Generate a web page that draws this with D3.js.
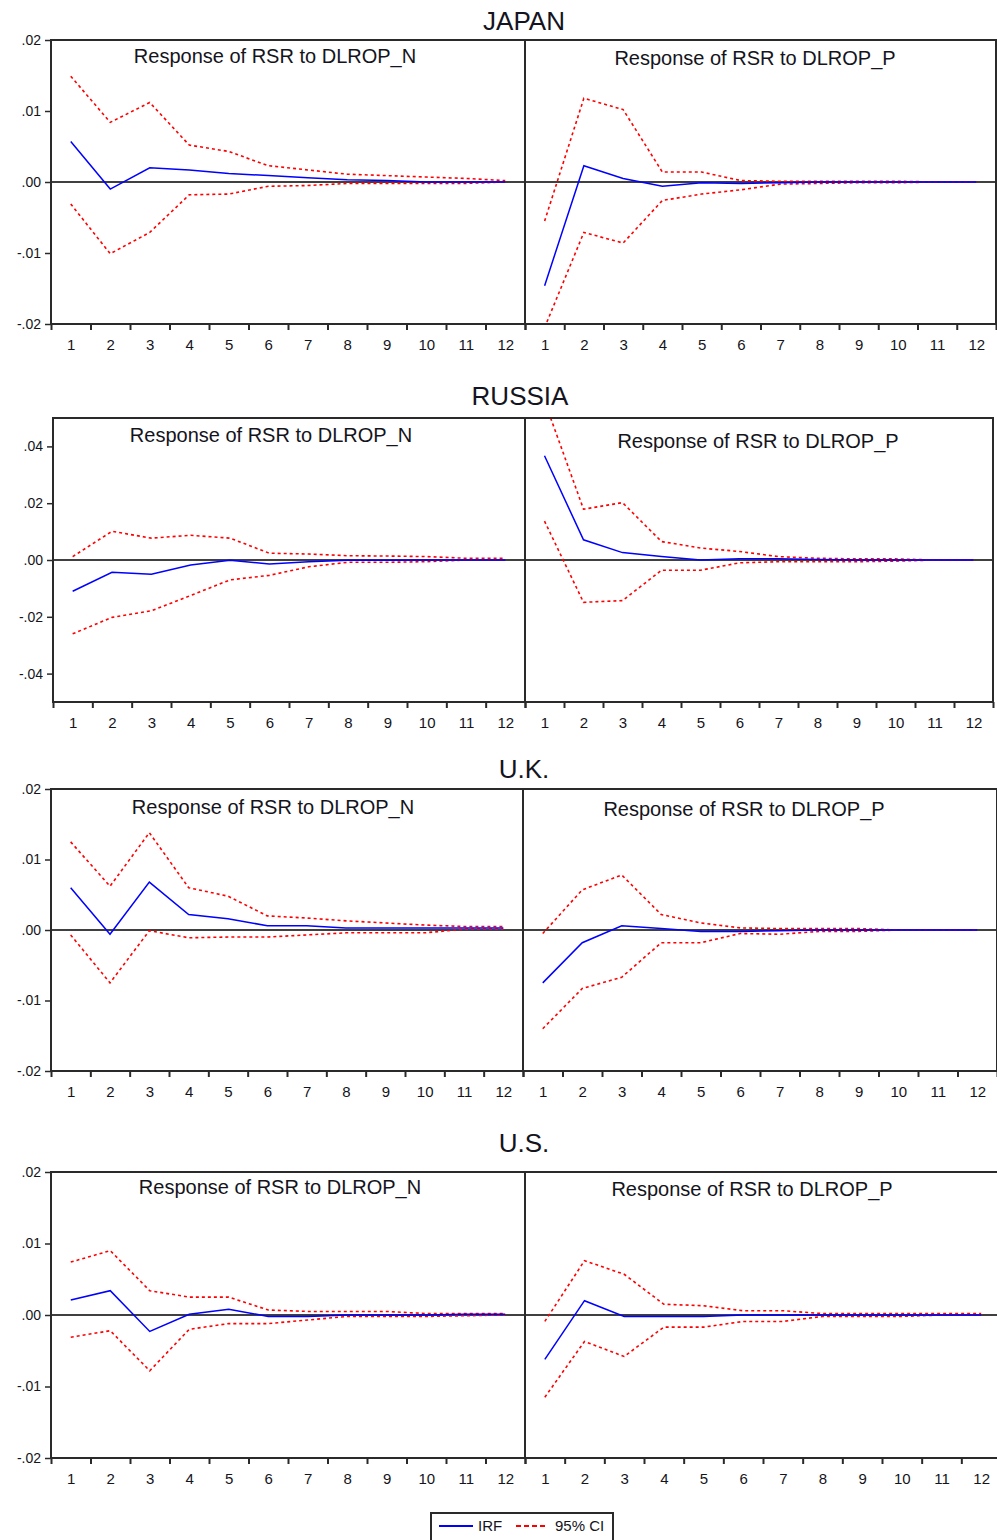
<!DOCTYPE html>
<html>
<head>
<meta charset="utf-8">
<script src="https://cdn.jsdelivr.net/npm/d3@7"></script>
<style>
body { margin: 0; background: #fff; }
text { font-family: "Liberation Sans", Arial, sans-serif; fill: #141420; }
</style>
</head>
<body>
<div id="my_dataviz"></div>
<script>
// periods of the impulse response
const periods = [1, 2, 3, 4, 5, 6, 7, 8, 9, 10, 11, 12];
const countries = ["JAPAN", "RUSSIA", "U.K.", "U.S."];
const panelTitles = ["Response of RSR to DLROP_N", "Response of RSR to DLROP_P"];
const ticksSmall = [-0.02, -0.01, 0, 0.01, 0.02];
const ticksRussia = [-0.04, -0.02, 0, 0.02, 0.04];

// JAPAN
const japanN_irf = [0.0057, -0.0010, 0.0020, 0.0017, 0.0012, 0.0009, 0.0006, 0.0003, 0.0002, 0.0000, 0.0000, 0.0000];
const japanN_up  = [0.0149, 0.0084, 0.0112, 0.0052, 0.0043, 0.0023, 0.0017, 0.0011, 0.0009, 0.0007, 0.0005, 0.0002];
const japanN_lo  = [-0.0031, -0.0101, -0.0071, -0.0018, -0.0017, -0.0006, -0.0005, -0.0002, -0.0002, -0.0002, -0.0002, 0.0000];
const japanP_irf = [-0.0146, 0.0023, 0.0005, -0.0006, -0.0001, -0.0002, -0.0001, 0, 0, 0, 0, 0];
const japanP_up  = [-0.0055, 0.0118, 0.0102, 0.0014, 0.0014, 0.0002, 0.0001, 0.0001, 0.0001, 0.0001, 0, 0];
const japanP_lo  = [-0.0205, -0.0071, -0.0086, -0.0026, -0.0017, -0.0011, -0.0003, -0.0002, -0.0001, -0.0001, 0, 0];

// RUSSIA
const russiaN_irf = [-0.0110, -0.0043, -0.0050, -0.0018, -0.0001, -0.0014, -0.0006, -0.0001, -0.0001, 0, 0, 0];
const russiaN_up  = [0.0012, 0.0101, 0.0077, 0.0087, 0.0077, 0.0024, 0.0021, 0.0015, 0.0014, 0.0012, 0.0006, 0.0006];
const russiaN_lo  = [-0.0260, -0.0202, -0.0179, -0.0125, -0.0070, -0.0054, -0.0024, -0.0008, -0.0008, -0.0006, 0, 0];
const russiaP_irf = [0.0367, 0.0071, 0.0026, 0.0012, 0.0000, 0.0004, 0.0004, 0.0002, 0, 0, 0, 0];
const russiaP_up  = [0.0560, 0.0179, 0.0202, 0.0065, 0.0042, 0.0030, 0.0012, 0.0006, 0.0004, 0.0004, 0, 0];
const russiaP_lo  = [0.0137, -0.0149, -0.0143, -0.0036, -0.0036, -0.0010, -0.0006, -0.0006, -0.0006, -0.0004, 0, 0];

// U.K.
const ukN_irf = [0.0060, -0.0006, 0.0068, 0.0022, 0.0016, 0.0006, 0.0006, 0.0003, 0.0003, 0.0003, 0.0003, 0.0003];
const ukN_up  = [0.0125, 0.0062, 0.0138, 0.0060, 0.0048, 0.0020, 0.0017, 0.0013, 0.0010, 0.0007, 0.0005, 0.0005];
const ukN_lo  = [-0.0007, -0.0075, -0.0001, -0.0011, -0.0010, -0.0010, -0.0007, -0.0004, -0.0004, -0.0004, 0.0001, 0.0001];
const ukP_irf = [-0.0075, -0.0018, 0.0006, 0.0002, -0.0002, -0.0002, -0.0001, 0, 0, 0, 0, 0];
const ukP_up  = [-0.0005, 0.0057, 0.0078, 0.0022, 0.0010, 0.0003, 0.0002, 0.0002, 0.0002, 0, 0, 0];
const ukP_lo  = [-0.0140, -0.0083, -0.0067, -0.0018, -0.0018, -0.0005, -0.0006, -0.0002, -0.0002, 0, 0, 0];

// U.S.
const usN_irf = [0.0021, 0.0034, -0.0023, 0.0001, 0.0008, -0.0002, -0.0002, 0, 0, 0, 0.0001, 0.0001];
const usN_up  = [0.0074, 0.0090, 0.0034, 0.0025, 0.0025, 0.0007, 0.0005, 0.0005, 0.0005, 0.0002, 0.0002, 0.0002];
const usN_lo  = [-0.0031, -0.0022, -0.0078, -0.0020, -0.0012, -0.0012, -0.0007, -0.0002, -0.0002, -0.0002, -0.0001, 0];
const usP_irf = [-0.0062, 0.0020, -0.0002, -0.0002, -0.0002, 0, 0, 0, 0, 0, 0, 0];
const usP_up  = [-0.0009, 0.0076, 0.0057, 0.0015, 0.0013, 0.0006, 0.0006, 0.0002, 0.0002, 0.0002, 0.0002, 0.0002];
const usP_lo  = [-0.0115, -0.0037, -0.0058, -0.0017, -0.0017, -0.0009, -0.0009, -0.0002, -0.0002, -0.0002, 0, 0];

// layout of each country block (pixel positions)
const blocks = [
    { name: countries[0], domain: [-0.02, 0.02], ticks: ticksSmall, x0: 51, xm: 525, x1: 996, top: 40, bottom: 324,
      titleX: 524, titleY: 30, subX: [275, 755], subY: [63, 65],
      series: [[japanN_irf, japanN_up, japanN_lo], [japanP_irf, japanP_up, japanP_lo]] },
    { name: countries[1], domain: [-0.05, 0.05], ticks: ticksRussia, x0: 53, xm: 525, x1: 993, top: 418, bottom: 702,
      titleX: 520, titleY: 405, subX: [271, 758], subY: [442, 448],
      series: [[russiaN_irf, russiaN_up, russiaN_lo], [russiaP_irf, russiaP_up, russiaP_lo]] },
    { name: countries[2], domain: [-0.02, 0.02], ticks: ticksSmall, x0: 51, xm: 523, x1: 997, top: 789, bottom: 1071,
      titleX: 524, titleY: 778, subX: [273, 744], subY: [814, 816],
      series: [[ukN_irf, ukN_up, ukN_lo], [ukP_irf, ukP_up, ukP_lo]] },
    { name: countries[3], domain: [-0.02, 0.02], ticks: ticksSmall, x0: 51, xm: 525, x1: 1001, top: 1172, bottom: 1458,
      titleX: 524, titleY: 1152, subX: [280, 752], subY: [1194, 1196],
      series: [[usN_irf, usN_up, usN_lo], [usP_irf, usP_up, usP_lo]] }
];

const svg = d3.select("#my_dataviz")
    .append("svg")
    .attr("width", 997)
    .attr("height", 1540);

// EViews style: ".02", "-.01", ".00"
const fmt = v => d3.format(".2f")(v).replace("\u2212", "-").replace("0.", ".");
const bounds = periods.map(p => p - 0.5).concat([12.5]);

blocks.forEach(function (b, bi) {
    const y = d3.scaleLinear().domain(b.domain).range([b.bottom, b.top]);

    // country title
    svg.append("text")
        .attr("x", b.titleX)
        .attr("y", b.titleY)
        .attr("text-anchor", "middle")
        .style("font-size", "26px")
        .text(b.name);

    [0, 1].forEach(function (pi) {
        const xa = pi == 0 ? b.x0 : b.xm;
        const xb = pi == 0 ? b.xm : b.x1;
        const x = d3.scaleLinear().domain([0.5, 12.5]).range([xa, xb]);
        const g = svg.append("g");

        const clipId = "clip" + bi + "_" + pi;
        g.append("clipPath").attr("id", clipId)
            .append("rect")
            .attr("x", xa).attr("y", b.top)
            .attr("width", xb - xa).attr("height", b.bottom - b.top);

        // zero line
        g.append("line")
            .attr("x1", xa).attr("x2", xb)
            .attr("y1", y(0)).attr("y2", y(0))
            .attr("stroke", "#000")
            .attr("stroke-width", 1.6);

        const line = d3.line().x((d, i) => x(periods[i])).y(d => y(d));
        const [irf, up, lo] = b.series[pi];

        const lines = g.append("g").attr("clip-path", `url(#${clipId})`);
        [up, lo].forEach(function (s) {
            lines.append("path")
                .datum(s)
                .attr("d", line)
                .attr("fill", "none")
                .attr("stroke", "#ff0000")
                .attr("stroke-width", 1.6)
                .attr("stroke-dasharray", "3,3");
        });
        lines.append("path")
            .datum(irf)
            .attr("d", line)
            .attr("fill", "none")
            .attr("stroke", "#0000ff")
            .attr("stroke-width", 1.5);

        // frame
        g.append("rect")
            .attr("x", xa).attr("y", b.top)
            .attr("width", xb - xa).attr("height", b.bottom - b.top)
            .attr("fill", "none")
            .attr("stroke", "#2a2a2a")
            .attr("stroke-width", 2);

        // x ticks at period boundaries
        g.append("g")
            .attr("transform", `translate(0, ${b.bottom})`)
            .call(d3.axisBottom(x).tickValues(bounds).tickSize(6).tickFormat(""))
            .call(a => a.select(".domain").remove())
            .call(a => a.selectAll("line").attr("stroke", "#2a2a2a").attr("stroke-width", 2));

        // x labels at band centres
        g.append("g")
            .attr("transform", `translate(0, ${b.bottom})`)
            .call(d3.axisBottom(x).tickValues(periods).tickSize(0).tickPadding(15).tickFormat(d3.format("d")))
            .call(a => a.select(".domain").remove())
            .call(a => a.selectAll("text").style("font-size", "15px").style("font-family", "Liberation Sans, Arial, sans-serif").attr("fill", "#141420"));

        // panel title
        g.append("text")
            .attr("x", b.subX[pi])
            .attr("y", b.subY[pi])
            .attr("text-anchor", "middle")
            .style("font-size", "20px")
            .text(panelTitles[pi]);

        if (pi == 0) {
            g.append("g")
                .attr("transform", `translate(${b.x0}, 0)`)
                .call(d3.axisLeft(y).tickValues(b.ticks).tickSize(6).tickPadding(4).tickFormat(fmt))
                .call(a => a.select(".domain").remove())
                .call(a => a.selectAll("line").attr("stroke", "#2a2a2a").attr("stroke-width", 1.5))
                .call(a => a.selectAll("text").style("font-size", "14px").style("font-family", "Liberation Sans, Arial, sans-serif").attr("fill", "#141420"));
        }
    });
});

// legend
const legend = svg.append("g");
legend.append("rect")
    .attr("x", 431).attr("y", 1513)
    .attr("width", 182).attr("height", 40)
    .attr("fill", "#fff")
    .attr("stroke", "#2a2a2a")
    .attr("stroke-width", 2);
legend.append("line")
    .attr("x1", 439).attr("x2", 473).attr("y1", 1526).attr("y2", 1526)
    .attr("stroke", "#0000ff").attr("stroke-width", 2);
legend.append("text")
    .attr("x", 478).attr("y", 1531)
    .style("font-size", "15px")
    .text("IRF");
legend.append("line")
    .attr("x1", 516).attr("x2", 548).attr("y1", 1526).attr("y2", 1526)
    .attr("stroke", "#ff0000").attr("stroke-width", 2)
    .attr("stroke-dasharray", "5,3");
legend.append("text")
    .attr("x", 555).attr("y", 1531)
    .style("font-size", "15px")
    .text("95% CI");
</script>
</body>
</html>
